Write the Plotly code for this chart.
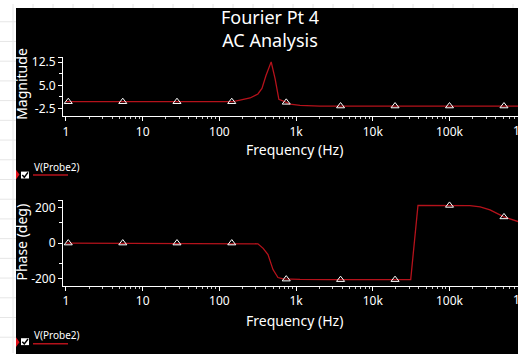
import plotly.graph_objects as go

W, H = 518, 354

# ---- data ----
mag_freq = [1, 150, 186, 251, 318, 359, 405, 473, 532, 596, 695, 836, 1124, 2050, 800000]
mag_val = [-0.3, -0.3, 0.2, 0.9, 2.2, 4.0, 8.2, 12.6, 7.2, 0.5, -0.2, -1.1, -1.5, -1.7, -1.7]

ph_freq = [1, 150, 250, 318, 372, 430, 500, 580, 675, 1124, 2780, 31200, 38800, 185000, 251000, 337000, 513000, 785000]
ph_val = [0, 0, -2, -4, -30, -65, -150, -195, -203, -206, -207, -207, 213, 212, 205, 188, 148, 122]

mk_freq = [1.07, 5.5, 28, 145, 744, 3800, 19500, 100000, 513000]
mk_mag = [-0.3, -0.3, -0.3, -0.3, -0.5, -1.7, -1.7, -1.7, -1.7]
mk_ph = [0, 0, 0, 0, -204, -207, -207, 213, 148]

x_tickvals = [1, 10, 100, 1000, 10000, 100000]
x_ticktext = ['1', '10', '100', '1k', '10k', '100k']
mag_tickvals = [-2.5, 5.0, 12.5]
mag_ticktext = ['-2.5', '5.0', '12.5']
ph_tickvals = [-200, 0, 200]
ph_ticktext = ['-200', '0', '200']

LINE = '#b5121b'
FONT = 'Noto Sans, Open Sans, Arial, sans-serif'

def px(x):
    return x / W

def py(y):
    return 1 - y / H

fig = go.Figure()
fig.add_trace(go.Scatter(x=mag_freq, y=mag_val, mode='lines', line=dict(color=LINE, width=1.3),
                         xaxis='x', yaxis='y', showlegend=False, hoverinfo='skip'))
fig.add_trace(go.Scatter(x=mk_freq, y=mk_mag, mode='markers', hoverinfo='skip',
                         marker=dict(symbol='triangle-up-open', size=7, color='white', line=dict(width=1, color='white')),
                         xaxis='x', yaxis='y', showlegend=False))
fig.add_trace(go.Scatter(x=ph_freq, y=ph_val, mode='lines', line=dict(color=LINE, width=1.3),
                         xaxis='x2', yaxis='y2', showlegend=False, hoverinfo='skip'))
fig.add_trace(go.Scatter(x=mk_freq, y=mk_ph, mode='markers', hoverinfo='skip',
                         marker=dict(symbol='triangle-up-open', size=7, color='white', line=dict(width=1, color='white')),
                         xaxis='x2', yaxis='y2', showlegend=False))

minor_x = [m * 10 ** d for d in range(0, 6) for m in range(2, 10)]

def xax(anchor):
    return dict(type='log', range=[-0.039, 5.893], domain=[px(63), 1], anchor=anchor,
                showline=True, linecolor='white', linewidth=1, ticks='outside', ticklen=4,
                tickcolor='white', tickmode='array', tickvals=x_tickvals, ticktext=x_ticktext,
                tickfont=dict(color='white', size=12, family=FONT), showgrid=False, zeroline=False,
                minor=dict(ticks='outside', ticklen=2, tickcolor='#cccccc', tickmode='array',
                           tickvals=minor_x, showgrid=False))

fig.update_layout(
    width=W, height=H, margin=dict(l=0, r=0, t=0, b=0),
    paper_bgcolor='white', plot_bgcolor='rgba(0,0,0,0)', hovermode=False,
    xaxis=xax('y'),
    xaxis2=xax('y2'),
    yaxis=dict(range=[-5.05, 14.1], domain=[py(114), py(54)], anchor='x',
               showline=True, linecolor='white', linewidth=1, ticks='outside', ticklen=4,
               tickcolor='white', tickmode='array', tickvals=mag_tickvals + [14.1],
               ticktext=mag_ticktext + [''], tickfont=dict(color='white', size=12, family=FONT),
               showgrid=False, zeroline=False,
               minor=dict(ticks='outside', ticklen=3, tickcolor='white', tickmode='array',
                          tickvals=[1.25, 8.75], showgrid=False)),
    yaxis2=dict(range=[-241, 241], domain=[py(285.7), py(199.3)], anchor='x2',
                showline=True, linecolor='white', linewidth=1, ticks='outside', ticklen=4,
                tickcolor='white', tickmode='array', tickvals=ph_tickvals + [241],
                ticktext=ph_ticktext + [''], tickfont=dict(color='white', size=12, family=FONT),
                showgrid=False, zeroline=False,
                minor=dict(ticks='outside', ticklen=3, tickcolor='white', tickmode='array',
                           tickvals=[-118, 118], showgrid=False)),
)

shapes = []
# background sheet grid (only on the visible white strips)
for gx in range(13, 16, 20):
    shapes.append(dict(type='line', xref='paper', yref='paper', x0=px(gx), x1=px(gx), y0=0, y1=1,
                       line=dict(color='#e6e6e6', width=1), layer='below'))
for gx in range(33, W, 20):
    shapes.append(dict(type='line', xref='paper', yref='paper', x0=px(gx), x1=px(gx), y0=py(4), y1=1,
                       line=dict(color='#e6e6e6', width=1), layer='below'))
for gy in range(18, H, 20):
    shapes.append(dict(type='line', xref='paper', yref='paper', x0=0, x1=px(16), y0=py(gy), y1=py(gy),
                       line=dict(color='#e6e6e6', width=1), layer='below'))
# black panel
shapes.append(dict(type='rect', xref='paper', yref='paper', x0=px(16), x1=1.05, y0=-0.05, y1=py(4),
                   fillcolor='black', line=dict(width=0), layer='below'))

annotations = []
for (ty, ly, by0, by1, tr0, tr1) in [(165, 173.5, 170, 177, 168, 178), (336, 344.5, 339, 346, 338, 348)]:
    shapes.append(dict(type='line', xref='paper', yref='paper', x0=px(33), x1=px(68), y0=py(ly), y1=py(ly),
                       line=dict(color=LINE, width=1.5)))
    shapes.append(dict(type='rect', xref='paper', yref='paper', x0=px(21), x1=px(29), y0=py(by1), y1=py(by0),
                       fillcolor='white', line=dict(width=0)))
    shapes.append(dict(type='path', xref='paper', yref='paper',
                       path='M %f,%f L %f,%f L %f,%f' % (px(22.3), py(by0 + 3.5), px(24.3), py(by1 - 1.2),
                                                          px(28), py(by0 + 0.8)),
                       line=dict(color='black', width=1.5)))
    shapes.append(dict(type='path', xref='paper', yref='paper',
                       path='M %f,%f L %f,%f L %f,%f Z' % (px(16), py(tr0), px(19.5), py((tr0 + tr1) / 2),
                                                            px(16), py(tr1)),
                       fillcolor='#e0101a', line=dict(width=0)))
    annotations.append(dict(text='V(Probe2)', xref='paper', yref='paper', x=px(32), y=py(ty),
                            xanchor='left', yanchor='middle', showarrow=False,
                            font=dict(color='white', size=10, family=FONT)))

def ann(text, x, y, size, angle=0):
    annotations.append(dict(text=text, xref='paper', yref='paper', x=px(x), y=py(y), xanchor='center',
                            yanchor='middle', showarrow=False, textangle=angle,
                            font=dict(color='white', size=size, family=FONT)))

ann('Fourier Pt 4<br>AC Analysis', 270, 25, 18)
ann('Frequency (Hz)', 294, 148, 14)
ann('Frequency (Hz)', 294, 321, 14)
ann('Magnitude', 22, 81, 14, -90)
ann('Phase (deg)', 22, 242, 14, -90)
ann('1M', 522, 128, 12)
ann('1M', 522, 300, 12)

fig.update_layout(shapes=shapes, annotations=annotations)
fig.write_html('out.html', config={'displayModeBar': False, 'staticPlot': True},
               post_script="var s=document.createElement('style');"
                           "s.textContent='html,body{margin:0;padding:0;overflow:hidden;background:#000;"
                           "scrollbar-width:none;}"
                           "::-webkit-scrollbar{display:none;width:0;height:0;}';"
                           "document.head.appendChild(s);window.scrollTo(0,0);")
